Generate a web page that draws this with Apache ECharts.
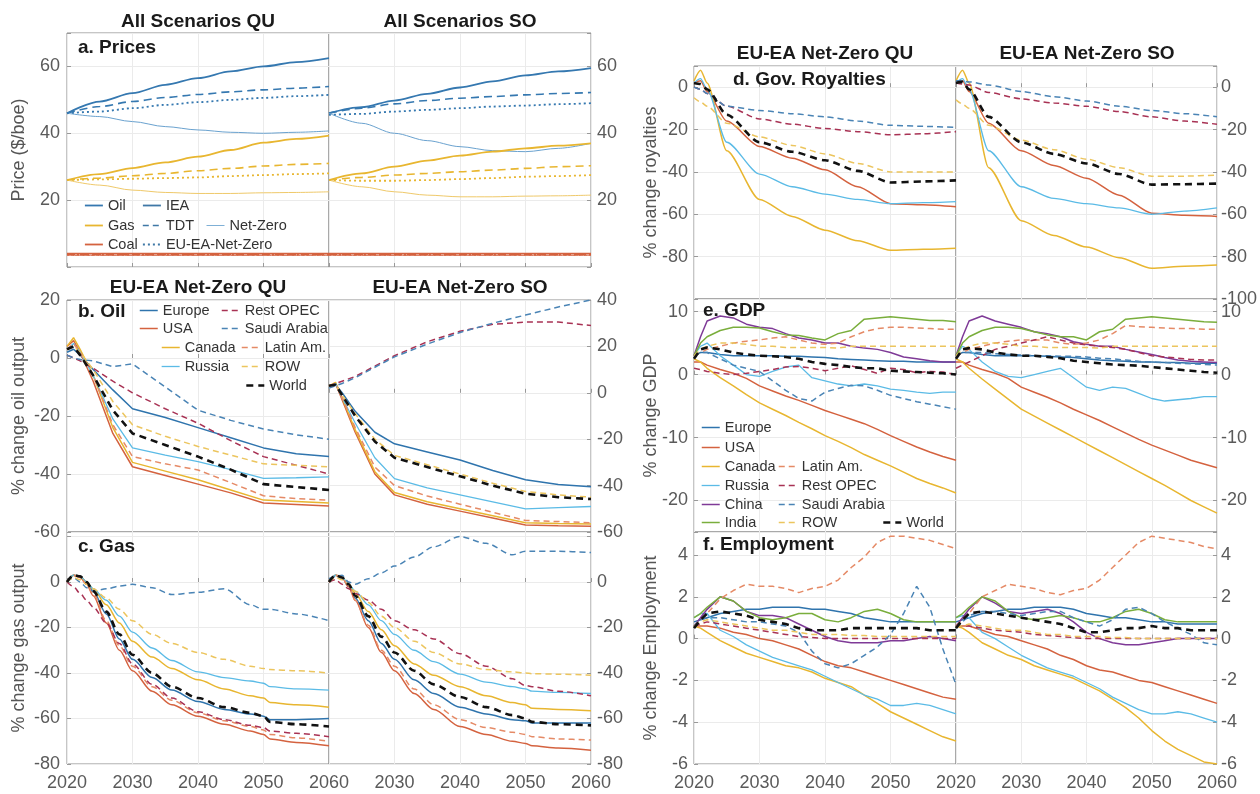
<!DOCTYPE html>
<html><head><meta charset="utf-8">
<script src="https://cdn.jsdelivr.net/npm/echarts@6.0.0/dist/echarts.min.js"></script>
<style>html,body{margin:0;padding:0;background:#fff}#c{width:1260px;height:794px}</style>
</head><body><div id="c"></div>
<script>
// ---------------- DATA ----------------
const YA = [2020, 2025, 2030, 2035, 2040, 2045, 2050, 2055, 2060];
// a. Prices ($/boe) - QU
const pQU_OilIEA = [46, 49.5, 52, 54.5, 56.5, 58.5, 60, 61.3, 62.5];
const pQU_OilTDT = [46, 48, 49.5, 50.7, 51.6, 52.4, 53, 53.5, 54];
const pQU_OilNZ  = [46, 45, 43.5, 42, 41, 40.3, 40, 40.3, 40.7];
const pQU_OilEU  = [46, 46.5, 47.5, 48.5, 49.3, 50, 50.6, 51.1, 51.5];
const pQU_GasIEA = [26, 27.8, 29.6, 31.3, 33, 35, 37.2, 38.3, 39.3];
const pQU_GasTDT = [26, 26.6, 27.3, 28, 28.8, 29.5, 30.2, 30.7, 31];
const pQU_GasNZ  = [26, 24.5, 23, 22.3, 22, 22, 22.2, 22.3, 22.5];
const pQU_GasEU  = [26, 26.2, 26.4, 26.6, 26.8, 27.2, 27.5, 27.8, 28];
const pQU_CoalIEA = [4, 4, 4, 4, 4, 4, 4, 4, 4];
const pQU_CoalTDT = [3.8, 3.8, 3.8, 3.8, 3.8, 3.8, 3.8, 3.8, 3.8];
const pQU_CoalNZ  = [3.5, 3.5, 3.5, 3.5, 3.5, 3.5, 3.5, 3.5, 3.5];
const pQU_CoalEU  = [3.7, 3.7, 3.7, 3.7, 3.7, 3.7, 3.7, 3.7, 3.7];
// a. Prices - SO
const pSO_OilIEA = [46, 47.8, 49.8, 51.8, 53.7, 55.5, 57.3, 58.5, 59.5];
const pSO_OilTDT = [46, 47.5, 48.8, 49.8, 50.5, 51, 51.5, 51.9, 52.2];
const pSO_OilNZ  = [46, 43, 40, 37.8, 36, 34.8, 34.5, 35.5, 37];
const pSO_OilEU  = [45.5, 45.8, 46.5, 47, 47.5, 48, 48.3, 48.7, 49];
const pSO_GasIEA = [26, 28, 30, 31.8, 33.3, 34.5, 35.5, 36.3, 37];
const pSO_GasTDT = [26, 26.8, 27.5, 28, 28.5, 29, 29.5, 30, 30.3];
const pSO_GasNZ  = [26, 24, 22.5, 21.5, 21, 21, 21.2, 21.3, 21.5];
const pSO_GasEU  = [26, 25.8, 25.8, 26, 26.3, 26.6, 27, 27.2, 27.5];
const pSO_CoalIEA = [4, 4, 4, 4, 4, 4, 4, 4, 4];
const pSO_CoalTDT = [3.8, 3.8, 3.8, 3.8, 3.8, 3.8, 3.8, 3.8, 3.8];
const pSO_CoalNZ  = [3.5, 3.5, 3.5, 3.5, 3.5, 3.5, 3.5, 3.5, 3.5];
const pSO_CoalEU  = [3.7, 3.7, 3.7, 3.7, 3.7, 3.7, 3.7, 3.7, 3.7];

// b. Oil output (% change)
const YB = [2020, 2021, 2022, 2024, 2027, 2030, 2035, 2040, 2045, 2050, 2055, 2060];
const oilQU_Europe   = [2, 3, 1, -4, -11, -17.5, -20.5, -24, -27.5, -31, -33, -34];
const oilQU_USA      = [4, 6, 2, -8, -26, -37.5, -40.5, -43.5, -46.5, -50, -50.5, -51];
const oilQU_Canada   = [4, 7, 3, -6, -24, -36, -39, -42, -45.5, -49, -49.5, -50];
const oilQU_Russia   = [3, 5, 2, -6, -21, -31, -33.5, -35.7, -38.5, -41.5, -41.3, -41];
const oilQU_RestOPEC = [1, 0, -1, -3.5, -8, -12, -17.5, -22.5, -28.5, -34, -37, -40];
const oilQU_Saudi    = [1, 0, -0.5, -1, -3, -2, -10, -18, -21.5, -24.5, -26.5, -28];
const oilQU_LatinAm  = [3, 5, 2, -6, -23, -34, -36.5, -38.6, -43, -47.5, -48.5, -49];
const oilQU_ROW      = [3, 4, 2, -4, -15, -23, -27, -30.5, -33.5, -36.5, -37, -37.5];
const oilQU_World    = [3, 4, 1, -6, -18, -26, -30, -34, -38.5, -43.5, -44.5, -45.5];
const oilSO_Europe   = [3, 3.5, 0, -8, -17, -22, -25.5, -29, -33.5, -37.5, -39.5, -40.5];
const oilSO_USA      = [3, 4, -3, -17, -35, -44, -48, -51, -54, -57, -57.3, -57.5];
const oilSO_Canada   = [3, 4.5, -2, -16, -34, -43, -47, -50, -53, -56, -56.3, -56.5];
const oilSO_Russia   = [3, 4, -2, -13, -28, -37, -41, -44, -47, -50, -49.5, -49];
const oilSO_RestOPEC = [3, 4, 5, 7, 11.5, 16, 22, 26.5, 29.5, 30.5, 30.5, 29];
const oilSO_Saudi    = [2, 3, 4, 6.5, 11, 15.5, 21, 26, 30, 33.5, 37, 40];
const oilSO_LatinAm  = [3, 4, -2, -15, -32, -40, -44.5, -48, -51.5, -55, -55.5, -56];
const oilSO_ROW      = [3, 3.5, -1, -9, -20, -27, -31, -35, -39, -42.5, -44, -45];
const oilSO_World    = [3, 3.5, -1, -10, -21, -28, -32, -36, -40, -43.5, -45, -45.8];

// c. Gas output (% change)
const YC = [2020, 2021, 2022, 2023, 2024, 2026, 2028, 2030, 2033, 2036, 2040, 2044, 2048, 2050, 2051, 2055, 2060];
const gasQU_Europe   = [0, 3, 2.5, 0, -4, -14, -25, -34, -42, -47.5, -52.5, -56, -58, -59, -60.5, -60.5, -60];
const gasQU_USA      = [0, 3, 2, -1, -6, -18, -30, -39, -48, -54, -59, -62.5, -65.5, -67, -69, -70.5, -72];
const gasQU_Canada   = [0, 3, 2.5, 0, -3, -10, -18, -26, -33, -38, -43, -47, -50, -51, -53, -54, -55];
const gasQU_Russia   = [0, 3, 2.5, 0, -3, -8, -15, -22, -29, -34.5, -39.5, -42, -43.5, -44.5, -46, -47, -47.5];
const gasQU_RestOPEC = [0, -2, -5, -8, -11, -18, -27, -36, -45, -51, -57, -60.5, -63, -64, -65.5, -66.5, -68];
const gasQU_Saudi    = [0, 2, 0, -2.5, -4, -3, -1.8, -1, -2.5, -5.5, -4.5, -3, -10, -12, -12, -14, -17];
const gasQU_LatinAm  = [0, 3, 2, -1, -5, -17, -28, -37, -46, -52, -57.5, -61, -63.5, -65, -67, -68.5, -70];
const gasQU_ROW      = [0, 2, 1, -1, -3, -7, -12, -17, -23, -27, -31, -34, -37, -38, -38.5, -39, -40];
const gasQU_World    = [0, 3, 2.5, 0, -4, -13, -23, -32, -40, -46, -51, -55, -57.5, -59, -61.5, -62.5, -63.5];
const gasSO_Europe   = [0, 3, 2, -2, -7, -17, -27, -34, -43, -49, -55, -58, -60.5, -61, -62, -62, -62];
const gasSO_USA      = [0, 3, 2, -2, -8, -20, -31, -39, -49, -56, -63.5, -67, -70, -71, -72, -73, -74];
const gasSO_Canada   = [0, 3, 2, -1, -5, -13, -21, -28, -36, -41, -46, -50, -53, -54, -55.5, -56, -56.6];
const gasSO_Russia   = [0, 3, 2, -1, -4, -10, -17, -23, -30, -35, -40.5, -44, -46, -47, -48, -48.5, -49];
const gasSO_RestOPEC = [0, 1, -1, -3, -5, -8, -12, -17, -21, -25, -31.5, -37, -42.5, -45.5, -46, -48, -50];
const gasSO_Saudi    = [1.5, 2.5, 3, 0, -1, 1.5, 4, 7, 11, 15.5, 20, 17, 12, 13.5, 13.5, 13.5, 13];
const gasSO_LatinAm  = [0, 3, 2, -2, -8, -19, -30, -37, -47, -54, -60.5, -64, -66, -67, -68, -69, -69.5];
const gasSO_ROW      = [0, 2, 1, -1, -4, -9, -15, -20, -26, -31, -36, -38.5, -39.5, -40, -40.3, -40.5, -41];
const gasSO_World    = [0, 3, 2, -1, -6, -15, -24, -31, -39, -45, -50.5, -55, -58.5, -60, -61.5, -62.5, -63];

// d. Gov. royalties (% change)
const YD = [2020, 2021, 2022, 2025, 2030, 2035, 2040, 2045, 2050, 2055, 2060];
const royQU_USA      = [2, 3, -2, -16, -28, -33.5, -39, -47, -55, -55.5, -56.5];
const royQU_Canada   = [3, 8, 2, -30, -53, -61, -67.5, -72.5, -77, -76.5, -76];
const royQU_Russia   = [2, 4, -1, -26, -41, -47, -50.5, -53, -55, -54.5, -54];
const royQU_RestOPEC = [0, -1, -3, -9, -15, -17.5, -19.5, -21, -22.5, -22, -21];
const royQU_Saudi    = [0, -1, -3, -9, -11, -12.5, -14, -16, -18, -18.5, -19];
const royQU_ROW      = [-5, -7, -9, -17, -23.5, -27.5, -31.5, -36, -40, -40, -40];
const royQU_World    = [2, 1.5, -1, -13, -26, -30.5, -34.5, -39.5, -45, -44.5, -44];
const roySO_USA      = [2, 3, -2, -17, -30, -37, -43, -51, -59.5, -60.5, -61];
const roySO_Canada   = [3, 8, 2, -38, -63, -70, -75.5, -80.5, -85.5, -84.5, -84];
const roySO_Russia   = [2, 4, -1, -30, -47, -52.5, -55, -57, -60, -58.5, -57];
const roySO_RestOPEC = [2, 1.5, 1, -2.5, -5.5, -7.5, -9, -11.5, -14, -16, -17.5];
const roySO_Saudi    = [3, 3, 2.5, 1, -2, -4.5, -6.5, -9, -11, -12.5, -14];
const roySO_ROW      = [-6, -8, -10, -18, -25, -29.5, -34, -38, -42, -42, -41.5];
const roySO_World    = [2, 2.5, -1, -14, -26, -31.5, -36, -41, -46, -45.8, -45.5];

// e. GDP and f. Employment (% change)
const YE = [2020, 2021, 2022, 2024, 2026, 2028, 2030, 2032, 2034, 2036, 2038, 2040, 2042, 2044, 2046, 2048, 2050, 2052, 2054, 2056, 2058, 2060];
const gdpQU_Europe   = [3, 3.5, 3.5, 3.2, 3, 3, 3, 3, 2.9, 2.9, 2.8, 2.7, 2.5, 2.4, 2.3, 2.2, 2.1, 2.1, 2, 2, 2, 2];
const gdpQU_USA      = [2, 2, 1.5, 0.8, 0.2, -0.6, -1.8, -2.6, -3.4, -4.1, -4.9, -5.7, -6.4, -7.1, -7.8, -8.7, -9.7, -10.6, -11.5, -12.3, -13, -13.6];
const gdpQU_Canada   = [2.5, 2, 1, -0.5, -1.8, -3.2, -4.5, -5.5, -6.5, -7.6, -8.6, -9.7, -10.6, -11.6, -12.7, -13.6, -14.5, -15.5, -16.5, -17.3, -18, -18.8];
const gdpQU_Russia   = [3, 4.5, 5, 3, 1.5, 0, -0.3, 0.5, 1.2, 1.5, -0.5, -1, -1.5, -1.8, -1.5, -1.8, -2.3, -2.5, -2.8, -3, -2.8, -2.8];
const gdpQU_China    = [3, 6, 8.5, 9.3, 9, 8, 7.5, 7.3, 6.5, 5.8, 5.5, 5, 5, 4.5, 4.2, 4, 3.5, 2.8, 2.5, 2.2, 2, 2];
const gdpQU_India    = [3, 5, 6, 7, 7.5, 7.5, 7.4, 6.8, 6.3, 6.2, 5.8, 5.5, 6.5, 7, 8.8, 9, 9.2, 9, 8.8, 8.6, 8.6, 8.4];
const gdpQU_LatinAm  = [3, 3.5, 4, 4.5, 5, 5.3, 5.5, 5.8, 6, 5.5, 5, 4.8, 5, 6, 6.8, 7.3, 7.5, 7.5, 7.4, 7.3, 7.2, 7.2];
const gdpQU_RestOPEC = [1, 0.8, 0.5, 0.2, 0, 0.2, 0.5, 0.8, 1.2, 1.3, 1, 0.6, 1, 1.4, 0.8, 0.2, 1, 0.8, 0.3, 0.5, 0.4, 0];
const gdpQU_Saudi    = [3, 3.5, 3.5, 2.5, 1.5, 1, 0.5, -1, -2.5, -3.8, -4.2, -2.8, -2.2, -1.7, -1.8, -2.5, -3.3, -3.8, -4.3, -4.7, -5.1, -5.5];
const gdpQU_ROW      = [3, 4, 4.5, 5, 5, 4.8, 4.5, 4.5, 4.3, 4.3, 4.3, 4.3, 4.2, 4.5, 4.5, 4.5, 4.5, 4.5, 4.5, 4.5, 4.5, 4.5];
const gdpQU_World    = [2.5, 4, 4.3, 4, 3.5, 3.2, 3, 2.9, 2.8, 2.5, 2, 1.7, 1.5, 1.2, 1, 1, 0.6, 0.5, 0.4, 0.3, 0.2, 0];
const gdpSO_Europe   = [3, 3.5, 3.5, 3.2, 3, 3, 3, 3, 2.9, 2.8, 2.7, 2.5, 2.3, 2.2, 2.1, 2, 2, 1.9, 1.9, 1.8, 1.8, 1.8];
const gdpSO_USA      = [2, 2, 1.5, 0.8, 0.2, -0.6, -2, -2.8, -3.6, -4.5, -5.5, -6.4, -7.3, -8.3, -9.3, -10.3, -11.2, -12, -12.8, -13.6, -14.2, -14.8];
const gdpSO_Canada   = [2.5, 2, 1, -0.7, -2.3, -3.9, -5.5, -6.6, -7.7, -8.8, -9.9, -11, -12.1, -13.2, -14.3, -15.4, -16.5, -17.6, -18.8, -20, -21, -22];
const gdpSO_Russia   = [3, 4.5, 4, 2, 0.5, -0.3, -0.5, 0, 0.5, 1, -0.5, -2, -2.5, -2, -2.2, -3, -3.8, -4.2, -4, -3.8, -3.5, -3.5];
const gdpSO_China    = [3, 6, 8.5, 9.3, 8.5, 8, 7.5, 6.8, 6.5, 6, 5.2, 4.8, 4.5, 4.5, 4, 3.6, 3.2, 2.7, 2.3, 2.1, 2, 1.9];
const gdpSO_India    = [3, 5, 6, 7, 7.5, 7.5, 7.3, 6.8, 6.3, 6, 6, 5.5, 6.8, 7.2, 8.8, 9, 9.2, 9, 8.8, 8.6, 8.4, 8.3];
const gdpSO_LatinAm  = [3, 3.5, 4, 4.5, 5, 5.3, 5.5, 5.5, 5.5, 5, 4.8, 5, 5.5, 6.5, 7.8, 7.6, 7.5, 7.4, 7.3, 7.3, 7.2, 7.2];
const gdpSO_RestOPEC = [1, 1.5, 2, 3, 4, 4.5, 5, 5.5, 6, 5.5, 5, 4.7, 4.5, 4.3, 4, 3.5, 3, 2.8, 2.6, 2.4, 2.3, 2.3];
const gdpSO_Saudi    = [3, 3.5, 3.5, 3.5, 3.3, 3.2, 3.1, 3, 3, 2.9, 2.9, 2.8, 2.6, 2.5, 2.3, 2.1, 2, 1.9, 1.8, 1.7, 1.6, 1.5];
const gdpSO_ROW      = [3, 4, 4.5, 5, 5, 4.8, 4.5, 4.5, 4.3, 4.3, 4.3, 4.3, 4.2, 4.5, 4.5, 4.5, 4.5, 4.5, 4.5, 4.5, 4.5, 4.5];
const gdpSO_World    = [2.5, 4, 4.2, 4, 3.5, 3.2, 3, 3, 2.8, 2.6, 2.2, 2, 1.8, 1.6, 1.5, 1.4, 1.2, 1, 0.8, 0.6, 0.4, 0.3];

const empQU_Europe   = [0.8, 0.9, 1, 1.2, 1.3, 1.4, 1.4, 1.5, 1.5, 1.5, 1.4, 1.4, 1.3, 1.2, 1, 0.9, 0.8, 0.8, 0.8, 0.8, 0.8, 0.8];
const empQU_USA      = [0.6, 0.6, 0.6, 0.5, 0.3, 0.2, 0, -0.1, -0.3, -0.5, -0.8, -1.1, -1.3, -1.4, -1.6, -1.8, -2, -2.2, -2.4, -2.6, -2.8, -2.9];
const empQU_Canada   = [0.6, 0.5, 0.3, -0.1, -0.4, -0.7, -0.9, -1.1, -1.3, -1.4, -1.6, -1.9, -2.1, -2.3, -2.7, -3.1, -3.5, -3.8, -4.1, -4.4, -4.7, -4.9];
const empQU_Russia   = [1, 1.2, 1.2, 0.4, 0.1, -0.3, -0.6, -0.9, -1.1, -1.3, -1.5, -1.8, -2.1, -2.4, -2.7, -2.9, -3.2, -3.2, -3.1, -3.2, -3.4, -3.6];
const empQU_China    = [0.6, 1, 1.4, 2, 1.8, 1.3, 1.1, 1.1, 1, 0.7, 0.4, 0.1, -0.1, -0.2, -0.2, -0.2, -0.1, -0.1, 0, 0.1, 0, -0.1];
const empQU_India    = [1, 1.2, 1.5, 2, 1.8, 1.3, 1, 0.9, 1, 1.2, 1.2, 0.9, 0.8, 1, 1.3, 1.4, 1.2, 0.9, 0.8, 0.8, 0.8, 0.8];
const empQU_LatinAm  = [0.6, 0.9, 1.2, 1.9, 2.3, 2.6, 2.5, 2.5, 2.4, 2.2, 2.4, 2.5, 2.8, 3.4, 3.9, 4.6, 4.9, 4.9, 4.8, 4.7, 4.5, 4.3];
const empQU_RestOPEC = [0.6, 0.7, 0.8, 0.7, 0.6, 0.5, 0.4, 0.3, 0.2, 0.1, 0.05, 0, 0, 0, 0, 0, 0, 0, 0, 0, 0, 0];
const empQU_Saudi    = [0.6, 0.9, 1, 1, 0.9, 0.8, 0.8, 0.7, 0.6, 0.3, -0.6, -1.2, -1.4, -1.2, -0.8, -0.4, 0.2, 1.2, 2.5, 1.5, -0.5, -2.2];
const empQU_ROW      = [0.6, 0.8, 0.9, 0.8, 0.7, 0.6, 0.5, 0.4, 0.4, 0.3, 0.2, 0.2, 0.2, 0.15, 0.15, 0.1, 0.1, 0.1, 0.1, 0.1, 0.1, 0.1];
const empQU_World    = [0.5, 0.9, 1.2, 1.3, 1.2, 1.1, 0.9, 0.8, 0.7, 0.5, 0.4, 0.4, 0.4, 0.5, 0.5, 0.5, 0.5, 0.5, 0.5, 0.4, 0.4, 0.4];
const empSO_Europe   = [0.8, 0.9, 1, 1.2, 1.3, 1.4, 1.4, 1.5, 1.5, 1.5, 1.4, 1.2, 1.1, 1, 1, 0.9, 0.8, 0.8, 0.7, 0.7, 0.7, 0.7];
const empSO_USA      = [0.6, 0.6, 0.6, 0.4, 0.2, 0.1, -0.1, -0.3, -0.5, -0.8, -1, -1.3, -1.5, -1.6, -1.8, -2, -2.1, -2.3, -2.5, -2.7, -2.9, -3.1];
const empSO_Canada   = [0.6, 0.5, 0.3, -0.2, -0.5, -0.8, -1, -1.3, -1.5, -1.7, -1.9, -2.2, -2.5, -2.9, -3.3, -3.8, -4.4, -4.9, -5.3, -5.6, -5.9, -6];
const empSO_Russia   = [1, 1.1, 1, 0.3, 0, -0.4, -0.8, -1.1, -1.4, -1.6, -1.8, -2.1, -2.4, -2.8, -3.1, -3.4, -3.6, -3.6, -3.5, -3.6, -3.8, -4];
const empSO_China    = [0.6, 1, 1.4, 2, 1.7, 1.3, 1.2, 1.3, 1.4, 1.2, 0.8, 0.3, 0, -0.2, -0.3, -0.3, -0.2, -0.1, 0, 0, 0, 0];
const empSO_India    = [1, 1.2, 1.5, 2, 1.8, 1.3, 1, 0.9, 1, 1.1, 1, 0.8, 0.8, 1, 1.3, 1.4, 1.2, 0.9, 0.8, 0.8, 0.8, 0.8];
const empSO_LatinAm  = [0.6, 0.9, 1.2, 2, 2.3, 2.6, 2.5, 2.4, 2.2, 2.1, 2.3, 2.4, 2.8, 3.4, 4, 4.6, 4.9, 4.8, 4.7, 4.6, 4.4, 4.3];
const empSO_RestOPEC = [0.6, 0.6, 0.6, 0.5, 0.4, 0.35, 0.3, 0.2, 0.15, 0.1, 0.05, 0, 0, 0, 0, 0, 0, 0, 0, 0, 0, 0];
const empSO_Saudi    = [0.5, 0.8, 1.1, 1.3, 1.3, 1.2, 1.1, 1.2, 1.3, 1.3, 1, 0.8, 0.6, 0.9, 1.4, 1.5, 1.2, 0.8, 0.5, 0.2, -0.2, -0.3];
const empSO_ROW      = [0.6, 0.6, 0.7, 0.6, 0.5, 0.4, 0.4, 0.3, 0.2, 0.2, 0.1, 0.1, 0.1, 0.05, 0.05, 0, 0, 0, 0, 0, 0, 0];
const empSO_World    = [0.5, 0.9, 1.2, 1.3, 1.2, 1.1, 1, 0.9, 0.8, 0.7, 0.5, 0.3, 0.3, 0.4, 0.5, 0.5, 0.6, 0.5, 0.5, 0.4, 0.4, 0.4];

// Tick labels shown on each axis
const yearTicks = [2020, 2030, 2040, 2050, 2060];
const yTickLabels = [
  [20, 40, 60], [20, 40, 60],
  [-60, -40, -20, 0, 20], [-60, -40, -20, 0, 20, 40],
  [-80, -60, -40, -20, 0], [-80, -60, -40, -20, 0],
  [-80, -60, -40, -20, 0], [-100, -80, -60, -40, -20, 0],
  [-20, -10, 0, 10], [-20, -10, 0, 10],
  [-6, -4, -2, 0, 2, 4], [-6, -4, -2, 0, 2, 4]
];
const colTitles = ['All Scenarios QU', 'All Scenarios SO', 'EU-EA Net-Zero QU', 'EU-EA Net-Zero SO', 'EU-EA Net-Zero QU', 'EU-EA Net-Zero SO'];
const panelLabels = ['a. Prices', 'b. Oil', 'c. Gas', 'd. Gov. Royalties', 'e. GDP', 'f. Employment'];
const yNames = ['Price ($/boe)', '% change oil output', '% change gas output', '% change royalties', '% change GDP', '% change Employment'];

// ---------------- STYLE / LAYOUT ----------------
const FONT = "'Liberation Sans', Arial, Helvetica, sans-serif";
const GRIDS = [
  [67, 33, 262, 234], [329, 33, 262, 234],
  [67, 300, 262, 232], [329, 300, 262, 232],
  [67, 532, 262, 232], [329, 532, 262, 232],
  [694, 66, 262, 233], [956, 66, 261, 233],
  [694, 299, 262, 233], [956, 299, 261, 233],
  [694, 532, 262, 232], [956, 532, 261, 232]
];
const YRANGE = [[0, 70, 20], [0, 70, 20], [-60, 20, 20], [-60, 40, 20], [-80, 22, 20], [-80, 22, 20],
  [-100, 10, 20], [-100, 10, 20], [-25, 12, 10], [-25, 12, 10], [-6, 5.1, 2], [-6, 5.1, 2]];
const XLABELS = { 4: [2020, 2030, 2040, 2050, 2060], 5: [2030, 2040, 2050, 2060], 10: [2020, 2030, 2040, 2050], 11: [2020, 2030, 2040, 2050, 2060] };
const REG = {
  'Europe':       ['#2f74ad', 1.5, 'solid'],
  'USA':          ['#d4623f', 1.5, 'solid'],
  'Canada':       ['#e8b630', 1.5, 'solid'],
  'Russia':       ['#5bbbe6', 1.3, 'solid'],
  'China':        ['#7f3a97', 1.5, 'solid'],
  'India':        ['#7aae3c', 1.5, 'solid'],
  'Latin Am.':    ['#e58a66', 1.5, [6, 4]],
  'Rest OPEC':    ['#a83254', 1.5, [6, 4]],
  'Saudi Arabia': ['#4a84b5', 1.5, [6, 4]],
  'ROW':          ['#ecc55e', 1.5, [6, 4]],
  'World':        ['#111111', 2.6, [7, 5]]
};
const OILC = '#3578b0', OILNZ = '#6aa2cf', GASC = '#e8b630', GASNZ = '#efc96a', COALC = '#d4623f';

const series = [];
function addLine(gi, xs, ys, name, color, width, dash, smooth, z) {
  series.push({
    type: 'line', name: name, xAxisIndex: gi, yAxisIndex: gi,
    data: xs.map((x, i) => [x, ys[i]]), symbol: 'none', silent: true,
    smooth: smooth || false, smoothMonotone: 'x', z: z || 2,
    lineStyle: { color: color, width: width, type: dash }, itemStyle: { color: color }
  });
}
// panel a
[[0, 'QU'], [1, 'SO']].forEach(([gi, k]) => {
  const P = k === 'QU'
    ? [pQU_OilIEA, pQU_OilTDT, pQU_OilNZ, pQU_OilEU, pQU_GasIEA, pQU_GasTDT, pQU_GasNZ, pQU_GasEU, pQU_CoalIEA, pQU_CoalTDT, pQU_CoalNZ, pQU_CoalEU]
    : [pSO_OilIEA, pSO_OilTDT, pSO_OilNZ, pSO_OilEU, pSO_GasIEA, pSO_GasTDT, pSO_GasNZ, pSO_GasEU, pSO_CoalIEA, pSO_CoalTDT, pSO_CoalNZ, pSO_CoalEU];
  const fuels = [['Oil', OILC, OILNZ], ['Gas', GASC, GASNZ], ['Coal', COALC, COALC]];
  fuels.forEach(([f, c, cn], j) => {
    addLine(gi, YA, P[j * 4 + 0], f + ' IEA', c, 1.8, 'solid', 0.3);
    addLine(gi, YA, P[j * 4 + 1], f + ' TDT', c, 1.6, [8, 5], 0.3);
    addLine(gi, YA, P[j * 4 + 2], f + ' Net-Zero', cn, 1.0, 'solid', 0.3);
    addLine(gi, YA, P[j * 4 + 3], f + ' EU-EA-Net-Zero', c, 1.8, [2, 3], 0.3);
  });
});
// legend-only entries for panel a
const LEGA = [['Oil', OILC, 1.8, 'solid'], ['Gas', GASC, 1.8, 'solid'], ['Coal', COALC, 1.8, 'solid'],
  ['IEA', '#3f78a6', 1.8, 'solid'], ['TDT', '#3f78a6', 1.6, [6, 4]], ['Net-Zero', '#7fb0d6', 1.0, 'solid'], ['EU-EA-Net-Zero', '#3f78a6', 1.8, [2, 3]]];
LEGA.forEach(([n, c, w, d]) => addLine(0, [], [], n, c, w, d));

const PANELS = [
  { g: 2, x: YB, sm: 0, s: { 'Europe': oilQU_Europe, 'USA': oilQU_USA, 'Canada': oilQU_Canada, 'Russia': oilQU_Russia, 'Latin Am.': oilQU_LatinAm, 'Rest OPEC': oilQU_RestOPEC, 'Saudi Arabia': oilQU_Saudi, 'ROW': oilQU_ROW, 'World': oilQU_World } },
  { g: 3, x: YB, sm: 0, s: { 'Europe': oilSO_Europe, 'USA': oilSO_USA, 'Canada': oilSO_Canada, 'Russia': oilSO_Russia, 'Latin Am.': oilSO_LatinAm, 'Rest OPEC': oilSO_RestOPEC, 'Saudi Arabia': oilSO_Saudi, 'ROW': oilSO_ROW, 'World': oilSO_World } },
  { g: 4, x: YC, sm: 0.3, s: { 'Europe': gasQU_Europe, 'USA': gasQU_USA, 'Canada': gasQU_Canada, 'Russia': gasQU_Russia, 'Latin Am.': gasQU_LatinAm, 'Rest OPEC': gasQU_RestOPEC, 'Saudi Arabia': gasQU_Saudi, 'ROW': gasQU_ROW, 'World': gasQU_World } },
  { g: 5, x: YC, sm: 0.3, s: { 'Europe': gasSO_Europe, 'USA': gasSO_USA, 'Canada': gasSO_Canada, 'Russia': gasSO_Russia, 'Latin Am.': gasSO_LatinAm, 'Rest OPEC': gasSO_RestOPEC, 'Saudi Arabia': gasSO_Saudi, 'ROW': gasSO_ROW, 'World': gasSO_World } },
  { g: 6, x: YD, sm: 0.25, s: { 'USA': royQU_USA, 'Canada': royQU_Canada, 'Russia': royQU_Russia, 'Rest OPEC': royQU_RestOPEC, 'Saudi Arabia': royQU_Saudi, 'ROW': royQU_ROW, 'World': royQU_World } },
  { g: 7, x: YD, sm: 0.25, s: { 'USA': roySO_USA, 'Canada': roySO_Canada, 'Russia': roySO_Russia, 'Rest OPEC': roySO_RestOPEC, 'Saudi Arabia': roySO_Saudi, 'ROW': roySO_ROW, 'World': roySO_World } },
  { g: 8, x: YE, sm: 0, s: { 'Europe': gdpQU_Europe, 'USA': gdpQU_USA, 'Canada': gdpQU_Canada, 'Russia': gdpQU_Russia, 'China': gdpQU_China, 'India': gdpQU_India, 'Latin Am.': gdpQU_LatinAm, 'Rest OPEC': gdpQU_RestOPEC, 'Saudi Arabia': gdpQU_Saudi, 'ROW': gdpQU_ROW, 'World': gdpQU_World } },
  { g: 9, x: YE, sm: 0, s: { 'Europe': gdpSO_Europe, 'USA': gdpSO_USA, 'Canada': gdpSO_Canada, 'Russia': gdpSO_Russia, 'China': gdpSO_China, 'India': gdpSO_India, 'Latin Am.': gdpSO_LatinAm, 'Rest OPEC': gdpSO_RestOPEC, 'Saudi Arabia': gdpSO_Saudi, 'ROW': gdpSO_ROW, 'World': gdpSO_World } },
  { g: 10, x: YE, sm: 0, s: { 'Europe': empQU_Europe, 'USA': empQU_USA, 'Canada': empQU_Canada, 'Russia': empQU_Russia, 'China': empQU_China, 'India': empQU_India, 'Latin Am.': empQU_LatinAm, 'Rest OPEC': empQU_RestOPEC, 'Saudi Arabia': empQU_Saudi, 'ROW': empQU_ROW, 'World': empQU_World } },
  { g: 11, x: YE, sm: 0, s: { 'Europe': empSO_Europe, 'USA': empSO_USA, 'Canada': empSO_Canada, 'Russia': empSO_Russia, 'China': empSO_China, 'India': empSO_India, 'Latin Am.': empSO_LatinAm, 'Rest OPEC': empSO_RestOPEC, 'Saudi Arabia': empSO_Saudi, 'ROW': empSO_ROW, 'World': empSO_World } }
];
PANELS.forEach(p => {
  Object.keys(REG).forEach(name => {
    if (!p.s[name]) return;
    const st = REG[name];
    addLine(p.g, p.x, p.s[name], name, st[0], st[1], st[2], p.sm, name === 'World' ? 5 : 2);
  });
});

// legends (one component per entry)
const LEG_TXT = { fontSize: 14.5, color: '#333', fontFamily: FONT };
const LEGENDS = [
  ['Oil', 84, 198], ['Gas', 84, 218], ['Coal', 84, 237],
  ['IEA', 142, 198], ['TDT', 142, 218], ['EU-EA-Net-Zero', 142, 237], ['Net-Zero', 206, 218],
  ['Europe', 139, 303], ['USA', 139, 321], ['Canada', 161, 340], ['Russia', 161, 359],
  ['Rest OPEC', 221, 303], ['Saudi Arabia', 221, 321], ['Latin Am.', 241, 340], ['ROW', 241, 359], ['World', 245, 378],
  ['Europe', 701, 420], ['USA', 701, 440], ['Canada', 701, 459], ['Russia', 701, 478], ['China', 701, 497], ['India', 701, 515],
  ['Latin Am.', 778, 459], ['Rest OPEC', 778, 478], ['Saudi Arabia', 778, 497], ['ROW', 778, 515], ['World', 882, 515]
];
const legend = LEGENDS.map(([n, l, t]) => ({
  data: [n], left: l, top: t, padding: 0, itemGap: 0, itemWidth: 18, itemHeight: 10,
  selectedMode: false, textStyle: LEG_TXT, itemStyle: { opacity: 0 }, lineStyle: { width: 'inherit' }
}));

// titles
const TT = { fontSize: 19, fontWeight: 'bold', color: '#1a1a1a', fontFamily: FONT };
const titlePos = [[198, 12], [460, 12], [198, 278], [460, 278], [825, 44], [1087, 44]];
const labelPos = [[78, 38], [78, 302], [78, 537], [733, 70], [703, 301], [703, 535]];
const title = [];
colTitles.forEach((t, i) => title.push({ text: t, left: titlePos[i][0], top: titlePos[i][1], textAlign: 'center', padding: 0, textStyle: TT }));
panelLabels.forEach((t, i) => title.push({ text: t, left: labelPos[i][0], top: labelPos[i][1], padding: 0, textStyle: TT }));

const grid = GRIDS.map(g => ({ left: g[0], top: g[1], width: g[2], height: g[3], show: true, borderColor: '#8c8c8c', borderWidth: 1, backgroundColor: 'transparent', containLabel: false, outerBoundsMode: 'none' }));

const AXT = { fontSize: 18, color: '#5a5a5a', fontFamily: FONT };
const xAxis = GRIDS.map((g, i) => ({
  gridIndex: i, type: 'value', min: 2020, max: 2060, interval: 10,
  axisLine: { show: false },
  axisTick: { show: true, inside: true, length: 4, lineStyle: { color: '#999' } },
  splitLine: { show: true, lineStyle: { color: '#ebebeb', width: 1 } },
  axisLabel: XLABELS[i] ? { show: true, margin: 10, hideOverlap: false, showMinLabel: true, showMaxLabel: true, ...AXT,
    formatter: v => (XLABELS[i].indexOf(v) >= 0 ? String(v) : '') } : { show: false }
}));
const yAxis = GRIDS.map((g, i) => {
  const r = YRANGE[i];
  const ax = {
    gridIndex: i, type: 'value', min: r[0], max: r[1], position: i % 2 ? 'right' : 'left',
    axisLine: { show: false },
    axisTick: { show: true, inside: true, length: 4, lineStyle: { color: '#999' } },
    splitLine: { show: true, lineStyle: { color: '#ebebeb', width: 1 } },
    axisLabel: { show: true, margin: i < 6 ? (i % 2 ? 6 : 7) : (i % 2 ? 4 : 6), hideOverlap: false, showMinLabel: true, showMaxLabel: true, ...AXT,
      formatter: v => (yTickLabels[i].indexOf(Math.round(v * 100) / 100) >= 0 ? String(v) : '') }
  };
  if (r[0] % r[2] === 0) ax.interval = r[2]; else { ax.minInterval = r[2]; ax.maxInterval = r[2]; }
  if (i % 2 === 0) {
    ax.name = yNames[i / 2]; ax.nameLocation = 'middle'; ax.nameGap = i < 6 ? 39 : 34; ax.nameMoveOverlap = false;
    ax.nameTextStyle = { fontSize: 18, color: '#555', fontFamily: FONT };
  }
  return ax;
});

const chart = echarts.init(document.getElementById('c'), null, { renderer: 'canvas' });
chart.setOption({ animation: false, backgroundColor: '#fff', title, legend, grid, xAxis, yAxis, series });
</script></body></html>
